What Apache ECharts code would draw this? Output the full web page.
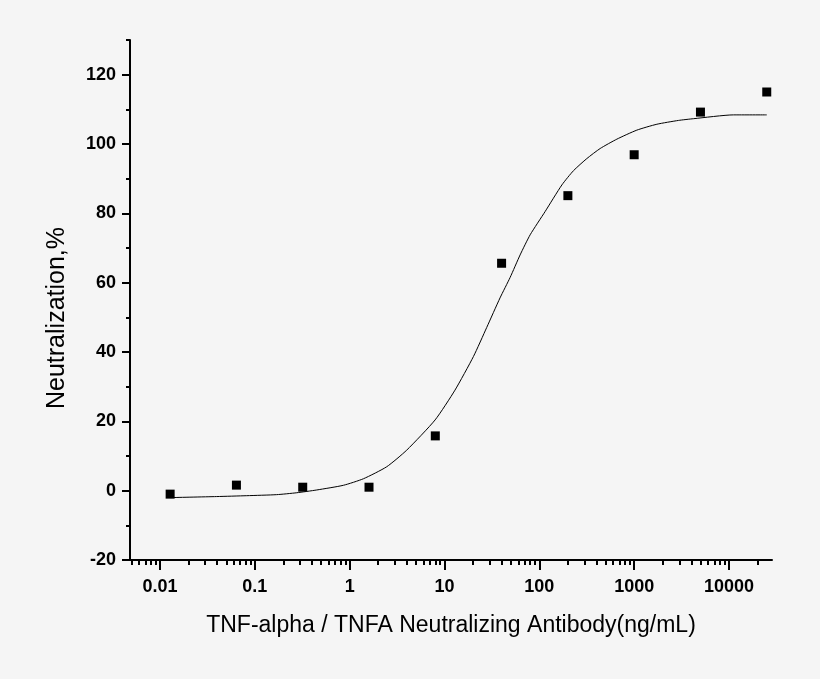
<!DOCTYPE html>
<html>
<head>
<meta charset="utf-8">
<script src="https://cdn.jsdelivr.net/npm/echarts@6/dist/echarts.min.js"></script>
<style>
  html, body { margin: 0; padding: 0; background: #f5f5f5; }
  #main { width: 820px; height: 679px; }
</style>
</head>
<body>
<div id="main"></div>
<script>
// measured points (ng/mL vs % neutralization)
var concentrations = [0.0128, 0.064, 0.32, 1.6, 8, 40, 200, 1000, 5000, 25000];
var neutralization = [-1.0, 1.6, 1.0, 1.0, 15.8, 65.6, 85.1, 96.9, 109.2, 115.0];

// fitted curve
var curveX = [0.0128, 0.0396, 0.0822, 0.170, 0.277, 0.450, 0.859, 1.40, 2.46, 4.00, 7.96, 12.9, 20.2, 27.9, 38.5, 49.2, 62.7, 80.0, 115, 173, 229, 317, 438, 657, 1067, 1736, 2931, 4224, 11170, 25000];
var curveY = [-2.0, -1.7, -1.45, -1.15, -0.6, 0.2, 1.55, 3.45, 6.9, 11.7, 20.4, 29.0, 38.7, 47.1, 55.6, 61.5, 68.0, 73.8, 80.5, 88.2, 92.3, 95.8, 98.7, 101.4, 104.0, 105.7, 106.8, 107.3, 108.4, 108.4];

var xMajor = [0.01, 0.1, 1, 10, 100, 1000, 10000];
var xMinor = [0.005, 0.006, 0.007, 0.008, 0.009,
  0.02, 0.03, 0.04, 0.05, 0.06, 0.07, 0.08, 0.09,
  0.2, 0.3, 0.4, 0.5, 0.6, 0.7, 0.8, 0.9,
  2, 3, 4, 5, 6, 7, 8, 9,
  20, 30, 40, 50, 60, 70, 80, 90,
  200, 300, 400, 500, 600, 700, 800, 900,
  2000, 3000, 4000, 5000, 6000, 7000, 8000, 9000,
  20000];
var yMajor = [-20, 0, 20, 40, 60, 80, 100, 120];
var yMinor = [-10, 10, 30, 50, 70, 90, 110, 130];

var font = "'Liberation Sans', Arial, sans-serif";
var xMin = 0.00483, xMax = 28400;

var chart = echarts.init(document.getElementById('main'));

var pairs = function (xs, ys) {
  return xs.map(function (x, i) { return [x, ys[i]]; });
};

chart.setOption({
  backgroundColor: '#f5f5f5',
  animation: false,
  grid: { left: 130, right: 48, top: 40, bottom: 119 },
  xAxis: [{
    type: 'log',
    logBase: 10,
    min: xMin,
    max: xMax,
    position: 'bottom',
    name: 'TNF-alpha / TNFA Neutralizing Antibody(ng/mL)',
    nameLocation: 'middle',
    nameGap: 54,
    nameTextStyle: { fontFamily: font, fontSize: 23, color: '#000' },
    axisLine: { onZero: false, lineStyle: { color: '#000', width: 2 } },
    axisTick: { customValues: xMajor, length: 10, lineStyle: { color: '#000', width: 2 } },
    axisLabel: {
      customValues: xMajor,
      margin: 18,
      fontFamily: font, fontSize: 18, fontWeight: 'bold', color: '#000',
      formatter: function (v) { return String(v); }
    },
    splitLine: { show: false }
  }, {
    type: 'log',
    logBase: 10,
    min: xMin,
    max: xMax,
    position: 'bottom',
    axisLine: { show: false, onZero: false },
    axisTick: { customValues: xMinor, length: 5, lineStyle: { color: '#000', width: 2 } },
    axisLabel: { show: false },
    splitLine: { show: false }
  }],
  yAxis: [{
    type: 'value',
    min: -20,
    max: 130,
    position: 'left',
    name: 'Neutralization,%',
    nameLocation: 'middle',
    nameGap: 60,
    nameTextStyle: { fontFamily: font, fontSize: 25, color: '#000', padding: [0, 36, 0, 0] },
    axisLine: { show: true, onZero: false, lineStyle: { color: '#000', width: 2 } },
    axisTick: { customValues: yMajor, length: 8, lineStyle: { color: '#000', width: 2 } },
    axisLabel: { customValues: yMajor, margin: 14, fontFamily: font, fontSize: 18, fontWeight: 'bold', color: '#000' },
    splitLine: { show: false }
  }, {
    type: 'value',
    min: -20,
    max: 130,
    position: 'left',
    axisLine: { show: false, onZero: false },
    axisTick: { customValues: yMinor, length: 4, lineStyle: { color: '#000', width: 2 } },
    axisLabel: { show: false },
    splitLine: { show: false }
  }],
  series: [{
    type: 'line',
    data: pairs(curveX, curveY),
    showSymbol: false,
    smooth: 0.2,
    lineStyle: { color: '#000', width: 1 },
    z: 2
  }, {
    type: 'scatter',
    data: pairs(concentrations, neutralization),
    symbol: 'rect',
    symbolSize: 9,
    itemStyle: { color: '#000', opacity: 1 },
    z: 3
  }]
});
</script>
</body>
</html>
